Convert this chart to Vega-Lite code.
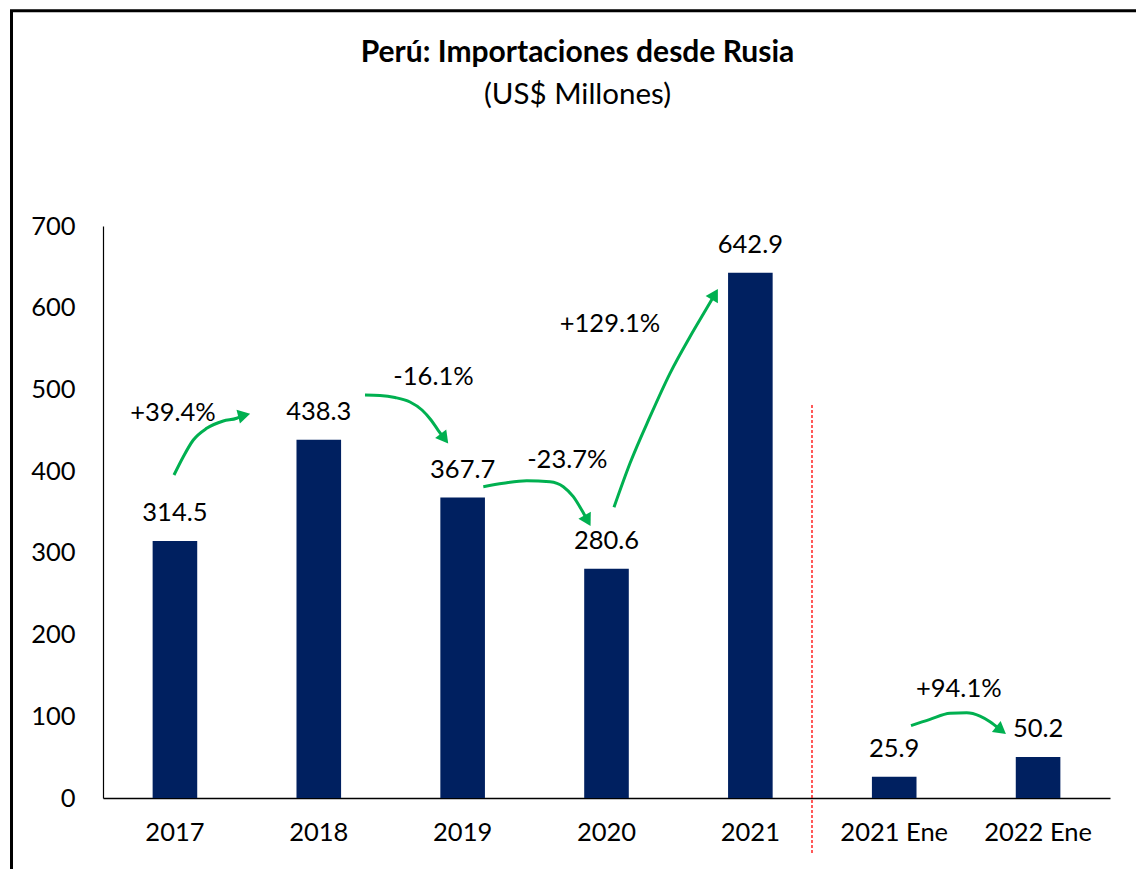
{
  "$schema": "https://vega.github.io/schema/vega-lite/v6.json",
  "width": 1007,
  "height": 572,
  "autosize": "none",
  "padding": {"left": 103, "top": 226, "right": 26, "bottom": 71},
  "background": "white",
  "title": {
    "text": "Perú: Importaciones desde Rusia",
    "subtitle": "(US$ Millones)",
    "frame": "group",
    "anchor": "middle",
    "dx": -29,
    "offset": -105,
    "font": "Lato",
    "fontSize": 30,
    "fontWeight": "bold",
    "color": "black",
    "subtitleFont": "Lato",
    "subtitleFontSize": 29.5,
    "subtitleColor": "black",
    "subtitlePadding": 13
  },
  "datasets": {
    "bars": [
      {"cat": "2017", "value": 314.5},
      {"cat": "2018", "value": 438.3},
      {"cat": "2019", "value": 367.7},
      {"cat": "2020", "value": 280.6},
      {"cat": "2021", "value": 642.9},
      {"cat": "2021 Ene", "value": 25.9},
      {"cat": "2022 Ene", "value": 50.2}
    ],
    "arrows": [
      {"id": "a1", "i": 0, "px": 0.4935, "py": 395.3},
      {"id": "a1", "i": 1, "px": 0.5582, "py": 417.7},
      {"id": "a1", "i": 2, "px": 0.6277, "py": 438.1},
      {"id": "a1", "i": 3, "px": 0.7208, "py": 452.4},
      {"id": "a1", "i": 4, "px": 0.8362, "py": 461.4},
      {"id": "a1", "i": 5, "px": 0.9294, "py": 464.7},
      {"id": "a1", "i": 6, "px": 0.9676, "py": 467.8},
      {"id": "a2", "i": 0, "px": 1.8212, "py": 493.2},
      {"id": "a2", "i": 1, "px": 1.9255, "py": 492.6},
      {"id": "a2", "i": 2, "px": 2.0298, "py": 490.1},
      {"id": "a2", "i": 3, "px": 2.1341, "py": 484.6},
      {"id": "a2", "i": 4, "px": 2.2175, "py": 474.8},
      {"id": "a2", "i": 5, "px": 2.28, "py": 462.6},
      {"id": "a2", "i": 6, "px": 2.3287, "py": 450.3},
      {"id": "a2", "i": 7, "px": 2.3648, "py": 441.8},
      {"id": "a3", "i": 0, "px": 2.6436, "py": 381.0},
      {"id": "a3", "i": 1, "px": 2.7826, "py": 385.1},
      {"id": "a3", "i": 2, "px": 2.9453, "py": 388.3},
      {"id": "a3", "i": 3, "px": 3.1073, "py": 387.1},
      {"id": "a3", "i": 4, "px": 3.1997, "py": 381.0},
      {"id": "a3", "i": 5, "px": 3.2692, "py": 368.7},
      {"id": "a3", "i": 6, "px": 3.3276, "py": 352.4},
      {"id": "a3", "i": 7, "px": 3.3617, "py": 341.6},
      {"id": "a4", "i": 0, "px": 3.5521, "py": 355.8},
      {"id": "a4", "i": 1, "px": 3.6634, "py": 409.6},
      {"id": "a4", "i": 2, "px": 3.8024, "py": 466.6},
      {"id": "a4", "i": 3, "px": 3.9414, "py": 519.7},
      {"id": "a4", "i": 4, "px": 4.0804, "py": 564.5},
      {"id": "a4", "i": 5, "px": 4.1965, "py": 599.3},
      {"id": "a4", "i": 6, "px": 4.2459, "py": 614.2},
      {"id": "a5", "i": 0, "px": 5.6167, "py": 88.5},
      {"id": "a5", "i": 1, "px": 5.7487, "py": 96.3},
      {"id": "a5", "i": 2, "px": 5.8878, "py": 103.7},
      {"id": "a5", "i": 3, "px": 6.0038, "py": 104.4},
      {"id": "a5", "i": 4, "px": 6.0963, "py": 100.3},
      {"id": "a5", "i": 5, "px": 6.1658, "py": 93.4},
      {"id": "a5", "i": 6, "px": 6.2318, "py": 84.4}
    ],
    "heads": [
      {"id": "a1", "px": 0.9676, "py": 467.8, "ang": 76},
      {"id": "a2", "px": 2.3648, "py": 441.8, "ang": 142},
      {"id": "a3", "px": 3.3617, "py": 341.6, "ang": 151},
      {"id": "a4", "px": 4.2459, "py": 614.2, "ang": 30},
      {"id": "a5", "px": 6.2318, "py": 84.4, "ang": 128}
    ],
    "pct": [
      {"label": "+39.4%", "px": 0.4866, "py": 460.8},
      {"label": "-16.1%", "px": 2.2974, "py": 505.4},
      {"label": "-23.7%", "px": 3.2275, "py": 403.5},
      {"label": "+129.1%", "px": 3.5243, "py": 570.7},
      {"label": "+94.1%", "px": 5.949, "py": 124.0}
    ],
    "frame": [
      {"i": 0, "px": -0.636, "py": -94},
      {"i": 1, "px": -0.636, "py": 963.5},
      {"i": 2, "px": 7.3, "py": 963.5}
    ],
    "divider": [
      {"px": 4.9285, "py": 481.0, "py2": -69.8}
    ]
  },
  "layer": [
    {
      "data": {"name": "bars"},
      "mark": {"type": "bar", "color": "#002060"},
      "encoding": {
        "x": {
          "field": "cat", "type": "nominal", "sort": null,
          "scale": {"paddingInner": 0.69, "paddingOuter": 0.345},
          "axis": {
            "title": null, "labelAngle": 0, "ticks": false,
            "domainColor": "black", "domainWidth": 1.5,
            "labelFont": "Lato", "labelFontSize": 25.5, "labelColor": "black",
            "labelPadding": 22
          }
        },
        "y": {
          "field": "value", "type": "quantitative",
          "scale": {"domain": [0, 700], "nice": false},
          "axis": {
            "title": null, "grid": false, "ticks": false,
            "values": [0, 100, 200, 300, 400, 500, 600, 700],
            "domainColor": "black", "domainWidth": 1.2,
            "labelFont": "Lato", "labelFontSize": 25.5, "labelColor": "black",
            "labelPadding": 28
          }
        }
      }
    },
    {
      "data": {"name": "bars"},
      "mark": {"type": "text", "font": "Lato", "fontSize": 25.5, "color": "black", "baseline": "alphabetic", "dy": -20},
      "encoding": {
        "x": {"field": "cat", "type": "nominal", "sort": null, "scale": {"paddingInner": 0.69, "paddingOuter": 0.345}, "axis": null},
        "y": {"field": "value", "type": "quantitative", "scale": {"domain": [0, 700], "nice": false}},
        "text": {"field": "value", "type": "quantitative", "format": ".1f"}
      }
    },
    {
      "data": {"name": "frame"},
      "mark": {"type": "line", "color": "black", "strokeWidth": 3, "strokeCap": "square", "strokeJoin": "miter"},
      "encoding": {
        "x": {"field": "px", "type": "quantitative", "scale": {"domain": [0, 7], "nice": false, "zero": false}, "axis": null},
        "y": {"field": "py", "type": "quantitative", "scale": {"domain": [0, 700], "nice": false}},
        "order": {"field": "i", "type": "quantitative"}
      }
    },
    {
      "data": {"name": "divider"},
      "mark": {"type": "rule", "color": "#FF0000", "strokeWidth": 1.3, "strokeDash": [3, 2]},
      "encoding": {
        "x": {"field": "px", "type": "quantitative", "scale": {"domain": [0, 7], "nice": false, "zero": false}, "axis": null},
        "y": {"field": "py", "type": "quantitative", "scale": {"domain": [0, 700], "nice": false}},
        "y2": {"field": "py2"}
      }
    },
    {
      "data": {"name": "arrows"},
      "mark": {"type": "line", "color": "#00B050", "strokeWidth": 3, "interpolate": "monotone"},
      "encoding": {
        "x": {"field": "px", "type": "quantitative", "scale": {"domain": [0, 7], "nice": false, "zero": false}, "axis": null},
        "y": {"field": "py", "type": "quantitative", "scale": {"domain": [0, 700], "nice": false}},
        "detail": {"field": "id", "type": "nominal"},
        "order": {"field": "i", "type": "quantitative"}
      }
    },
    {
      "data": {"name": "heads"},
      "mark": {"type": "point", "shape": "triangle", "filled": true, "color": "#00B050", "opacity": 1, "size": 200},
      "encoding": {
        "x": {"field": "px", "type": "quantitative", "scale": {"domain": [0, 7], "nice": false, "zero": false}, "axis": null},
        "y": {"field": "py", "type": "quantitative", "scale": {"domain": [0, 700], "nice": false}},
        "angle": {"field": "ang", "type": "quantitative", "scale": null}
      }
    },
    {
      "data": {"name": "pct"},
      "mark": {"type": "text", "font": "Lato", "fontSize": 25.5, "color": "black", "baseline": "alphabetic", "align": "center"},
      "encoding": {
        "x": {"field": "px", "type": "quantitative", "scale": {"domain": [0, 7], "nice": false, "zero": false}, "axis": null},
        "y": {"field": "py", "type": "quantitative", "scale": {"domain": [0, 700], "nice": false}},
        "text": {"field": "label", "type": "nominal"}
      }
    }
  ],
  "resolve": {"scale": {"x": "independent"}},
  "config": {"view": {"stroke": null}}
}
